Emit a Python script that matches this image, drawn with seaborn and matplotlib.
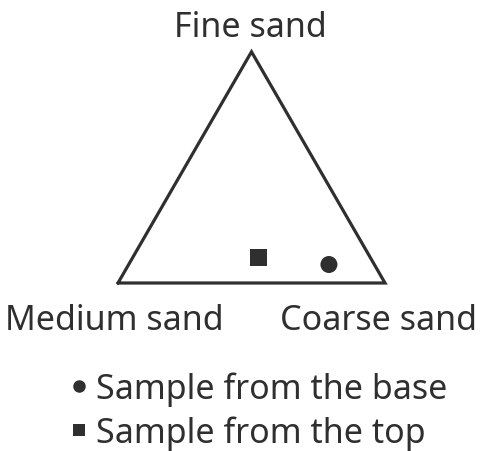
import matplotlib
matplotlib.use("Agg")
import matplotlib.pyplot as plt
from matplotlib.lines import Line2D
import numpy as np
import pandas as pd
import seaborn as sns

# Grain-size composition (%) of the two samples
samples = ["Sample from the base", "Sample from the top"]
fine = [8, 11]
medium = [17, 42]
coarse = [75, 47]
markers = ["o", "s"]

corner_labels = ["Fine sand", "Medium sand", "Coarse sand"]

INK = "#2f2f2f"

sns.set_theme(style="white")
plt.rcParams["font.family"] = ["Noto Sans", "DejaVu Sans"]

df = pd.DataFrame({"sample": samples, "fine": fine, "medium": medium, "coarse": coarse})
total = df[["fine", "medium", "coarse"]].sum(axis=1)
# ternary -> cartesian: medium at (0,0), coarse at (1,0), fine at top
df["x"] = (df["coarse"] + 0.5 * df["fine"]) / total
df["y"] = (np.sqrt(3) / 2) * df["fine"] / total

fig = plt.figure(figsize=(4.8, 4.52), dpi=100)
ax = fig.add_axes([0, 0, 1, 1])
ax.set_xlim(-118 / 267, 362 / 267)
ax.set_ylim(-168 / 267, 284 / 267)
ax.set_aspect("equal")
ax.axis("off")

# triangle frame
tri = np.array([[0, 0], [1, 0], [0.5, np.sqrt(3) / 2], [0, 0]])
ax.plot(tri[:, 0], tri[:, 1], color=INK, lw=2.3, solid_joinstyle="miter", zorder=1)

sns.scatterplot(data=df, x="x", y="y", style="sample",
                markers=dict(zip(samples, markers)), color=INK,
                s=150, linewidth=0, legend=False, ax=ax, zorder=2)

fs = 24.5
vertices = [(0.5, np.sqrt(3) / 2), (0, 0), (1, 0)]
offsets = [(-1, 16), (-4, -46), (-7, -46)]
for label, v, off in zip(corner_labels, vertices, offsets):
    ax.annotate(label, xy=v, xytext=off, textcoords="offset pixels",
                ha="center", va="baseline", fontsize=fs, color=INK)

handles = [Line2D([], [], marker=m, ls="none", color=INK, markersize=9,
                  markeredgewidth=0) for m in markers]
fig.legend(handles, samples, loc="upper left", bbox_to_anchor=(0.151, 0.177),
           frameon=False, fontsize=fs, labelcolor=INK, handlelength=0.4,
           handletextpad=0.3, labelspacing=0.28, borderpad=0, borderaxespad=0)

fig.savefig("out.png", dpi=100)
